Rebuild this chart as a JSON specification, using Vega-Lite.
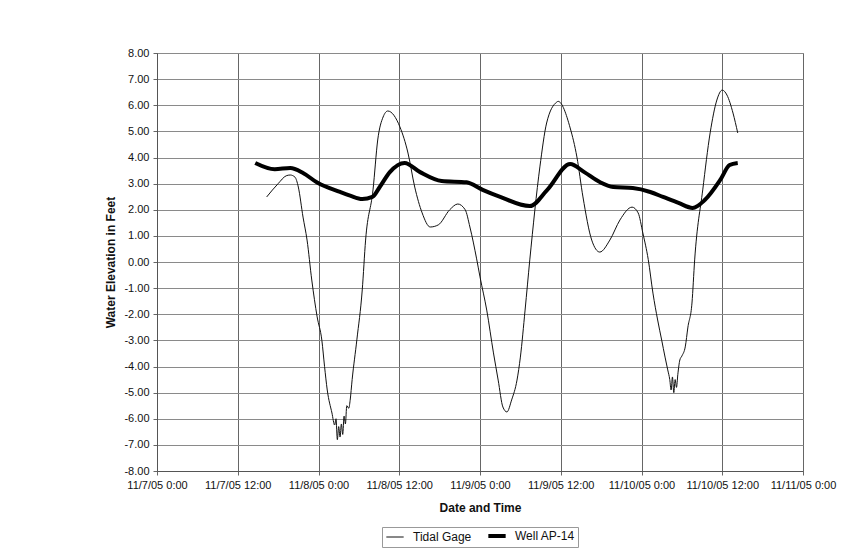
{
  "$schema": "https://vega.github.io/schema/vega-lite/v6.json",
  "width": 646,
  "height": 418,
  "autosize": {"type": "none"},
  "padding": {"left": 157, "top": 53, "right": 64, "bottom": 80},
  "background": "white",
  "config": {
    "font": "Liberation Sans",
    "locale": {
      "number": {"decimal": ".", "thousands": ",", "grouping": [3], "currency": ["$", ""], "minus": "-"}
    },
    "view": {"stroke": "#8a8a8a", "strokeWidth": 1},
    "axis": {
      "labelFont": "Liberation Sans",
      "labelFontSize": 11,
      "labelColor": "#111",
      "titleFont": "Liberation Sans",
      "titleFontSize": 12,
      "titleFontWeight": "bold",
      "titleColor": "#111",
      "tickSize": 4,
      "tickColor": "#666",
      "domainColor": "#555",
      "gridColor": "#8a8a8a",
      "gridOpacity": 1,
      "labelPadding": 4
    },
    "legend": {"labelFont": "Liberation Sans"}
  },
  "data": {
    "values": [
      {"t": "2005-11-07T16:18", "series": "Tidal Gage", "v": 2.49},
      {"t": "2005-11-07T18:00", "series": "Tidal Gage", "v": 3.0},
      {"t": "2005-11-07T19:12", "series": "Tidal Gage", "v": 3.30},
      {"t": "2005-11-07T19:48", "series": "Tidal Gage", "v": 3.33},
      {"t": "2005-11-07T20:30", "series": "Tidal Gage", "v": 3.25},
      {"t": "2005-11-07T21:00", "series": "Tidal Gage", "v": 2.87},
      {"t": "2005-11-07T21:42", "series": "Tidal Gage", "v": 1.72},
      {"t": "2005-11-07T22:18", "series": "Tidal Gage", "v": 0.84},
      {"t": "2005-11-07T23:00", "series": "Tidal Gage", "v": -0.69},
      {"t": "2005-11-07T23:48", "series": "Tidal Gage", "v": -2.1},
      {"t": "2005-11-08T00:30", "series": "Tidal Gage", "v": -3.0},
      {"t": "2005-11-08T00:54", "series": "Tidal Gage", "v": -4.0},
      {"t": "2005-11-08T01:18", "series": "Tidal Gage", "v": -4.9},
      {"t": "2005-11-08T02:00", "series": "Tidal Gage", "v": -5.78},
      {"t": "2005-11-08T02:24", "series": "Tidal Gage", "v": -6.24},
      {"t": "2005-11-08T02:36", "series": "Tidal Gage", "v": -6.0},
      {"t": "2005-11-08T02:48", "series": "Tidal Gage", "v": -6.8},
      {"t": "2005-11-08T03:00", "series": "Tidal Gage", "v": -6.3},
      {"t": "2005-11-08T03:12", "series": "Tidal Gage", "v": -6.7},
      {"t": "2005-11-08T03:24", "series": "Tidal Gage", "v": -6.2},
      {"t": "2005-11-08T03:36", "series": "Tidal Gage", "v": -6.6},
      {"t": "2005-11-08T03:48", "series": "Tidal Gage", "v": -5.9},
      {"t": "2005-11-08T04:00", "series": "Tidal Gage", "v": -6.2},
      {"t": "2005-11-08T04:12", "series": "Tidal Gage", "v": -5.5},
      {"t": "2005-11-08T04:30", "series": "Tidal Gage", "v": -5.6},
      {"t": "2005-11-08T04:42", "series": "Tidal Gage", "v": -5.3},
      {"t": "2005-11-08T05:00", "series": "Tidal Gage", "v": -4.5},
      {"t": "2005-11-08T05:42", "series": "Tidal Gage", "v": -2.98},
      {"t": "2005-11-08T06:30", "series": "Tidal Gage", "v": -1.07},
      {"t": "2005-11-08T07:00", "series": "Tidal Gage", "v": 0.84},
      {"t": "2005-11-08T08:06", "series": "Tidal Gage", "v": 2.76},
      {"t": "2005-11-08T08:48", "series": "Tidal Gage", "v": 4.67},
      {"t": "2005-11-08T09:36", "series": "Tidal Gage", "v": 5.55},
      {"t": "2005-11-08T10:18", "series": "Tidal Gage", "v": 5.78},
      {"t": "2005-11-08T12:06", "series": "Tidal Gage", "v": 5.17},
      {"t": "2005-11-08T13:18", "series": "Tidal Gage", "v": 4.17},
      {"t": "2005-11-08T14:18", "series": "Tidal Gage", "v": 2.87},
      {"t": "2005-11-08T15:24", "series": "Tidal Gage", "v": 1.88},
      {"t": "2005-11-08T16:36", "series": "Tidal Gage", "v": 1.34},
      {"t": "2005-11-08T17:48", "series": "Tidal Gage", "v": 1.42},
      {"t": "2005-11-08T19:30", "series": "Tidal Gage", "v": 2.0},
      {"t": "2005-11-08T20:42", "series": "Tidal Gage", "v": 2.22},
      {"t": "2005-11-08T21:48", "series": "Tidal Gage", "v": 2.0},
      {"t": "2005-11-08T22:30", "series": "Tidal Gage", "v": 1.34},
      {"t": "2005-11-08T23:30", "series": "Tidal Gage", "v": 0.12},
      {"t": "2005-11-09T00:00", "series": "Tidal Gage", "v": -0.57},
      {"t": "2005-11-09T01:00", "series": "Tidal Gage", "v": -1.84},
      {"t": "2005-11-09T02:00", "series": "Tidal Gage", "v": -3.48},
      {"t": "2005-11-09T02:42", "series": "Tidal Gage", "v": -4.52},
      {"t": "2005-11-09T03:24", "series": "Tidal Gage", "v": -5.55},
      {"t": "2005-11-09T04:00", "series": "Tidal Gage", "v": -5.74},
      {"t": "2005-11-09T04:42", "series": "Tidal Gage", "v": -5.28},
      {"t": "2005-11-09T05:30", "series": "Tidal Gage", "v": -4.52},
      {"t": "2005-11-09T06:00", "series": "Tidal Gage", "v": -3.64},
      {"t": "2005-11-09T06:42", "series": "Tidal Gage", "v": -1.84},
      {"t": "2005-11-09T07:24", "series": "Tidal Gage", "v": 0.08},
      {"t": "2005-11-09T08:54", "series": "Tidal Gage", "v": 3.64},
      {"t": "2005-11-09T09:54", "series": "Tidal Gage", "v": 5.32},
      {"t": "2005-11-09T11:24", "series": "Tidal Gage", "v": 6.12},
      {"t": "2005-11-09T11:36", "series": "Tidal Gage", "v": 6.15},
      {"t": "2005-11-09T13:24", "series": "Tidal Gage", "v": 5.13},
      {"t": "2005-11-09T14:24", "series": "Tidal Gage", "v": 4.02},
      {"t": "2005-11-09T15:18", "series": "Tidal Gage", "v": 2.49},
      {"t": "2005-11-09T16:36", "series": "Tidal Gage", "v": 0.84},
      {"t": "2005-11-09T17:48", "series": "Tidal Gage", "v": 0.38},
      {"t": "2005-11-09T19:18", "series": "Tidal Gage", "v": 0.84},
      {"t": "2005-11-09T20:48", "series": "Tidal Gage", "v": 1.61},
      {"t": "2005-11-09T22:36", "series": "Tidal Gage", "v": 2.1},
      {"t": "2005-11-09T23:30", "series": "Tidal Gage", "v": 1.88},
      {"t": "2005-11-10T00:12", "series": "Tidal Gage", "v": 1.11},
      {"t": "2005-11-10T01:00", "series": "Tidal Gage", "v": 0.1},
      {"t": "2005-11-10T01:42", "series": "Tidal Gage", "v": -1.19},
      {"t": "2005-11-10T02:24", "series": "Tidal Gage", "v": -2.22},
      {"t": "2005-11-10T03:00", "series": "Tidal Gage", "v": -2.99},
      {"t": "2005-11-10T03:30", "series": "Tidal Gage", "v": -3.64},
      {"t": "2005-11-10T03:54", "series": "Tidal Gage", "v": -4.13},
      {"t": "2005-11-10T04:12", "series": "Tidal Gage", "v": -4.5},
      {"t": "2005-11-10T04:24", "series": "Tidal Gage", "v": -4.9},
      {"t": "2005-11-10T04:36", "series": "Tidal Gage", "v": -4.4},
      {"t": "2005-11-10T04:48", "series": "Tidal Gage", "v": -5.0},
      {"t": "2005-11-10T05:00", "series": "Tidal Gage", "v": -4.5},
      {"t": "2005-11-10T05:12", "series": "Tidal Gage", "v": -4.8},
      {"t": "2005-11-10T05:24", "series": "Tidal Gage", "v": -4.3},
      {"t": "2005-11-10T05:42", "series": "Tidal Gage", "v": -3.75},
      {"t": "2005-11-10T06:00", "series": "Tidal Gage", "v": -3.6},
      {"t": "2005-11-10T06:30", "series": "Tidal Gage", "v": -3.25},
      {"t": "2005-11-10T06:54", "series": "Tidal Gage", "v": -2.49},
      {"t": "2005-11-10T07:30", "series": "Tidal Gage", "v": -1.57},
      {"t": "2005-11-10T07:54", "series": "Tidal Gage", "v": 0.08},
      {"t": "2005-11-10T09:06", "series": "Tidal Gage", "v": 2.76},
      {"t": "2005-11-10T10:12", "series": "Tidal Gage", "v": 4.94},
      {"t": "2005-11-10T11:12", "series": "Tidal Gage", "v": 6.2},
      {"t": "2005-11-10T12:00", "series": "Tidal Gage", "v": 6.58},
      {"t": "2005-11-10T12:42", "series": "Tidal Gage", "v": 6.39},
      {"t": "2005-11-10T13:36", "series": "Tidal Gage", "v": 5.7},
      {"t": "2005-11-10T14:18", "series": "Tidal Gage", "v": 4.94},
      {"t": "2005-11-07T14:36", "series": "Well AP-14", "v": 3.79},
      {"t": "2005-11-07T17:30", "series": "Well AP-14", "v": 3.55},
      {"t": "2005-11-07T19:48", "series": "Well AP-14", "v": 3.60},
      {"t": "2005-11-07T21:42", "series": "Well AP-14", "v": 3.41},
      {"t": "2005-11-07T23:48", "series": "Well AP-14", "v": 3.04},
      {"t": "2005-11-08T03:12", "series": "Well AP-14", "v": 2.68},
      {"t": "2005-11-08T04:42", "series": "Well AP-14", "v": 2.54},
      {"t": "2005-11-08T06:30", "series": "Well AP-14", "v": 2.41},
      {"t": "2005-11-08T08:00", "series": "Well AP-14", "v": 2.49},
      {"t": "2005-11-08T09:06", "series": "Well AP-14", "v": 2.87},
      {"t": "2005-11-08T10:36", "series": "Well AP-14", "v": 3.44},
      {"t": "2005-11-08T12:48", "series": "Well AP-14", "v": 3.79},
      {"t": "2005-11-08T15:06", "series": "Well AP-14", "v": 3.44},
      {"t": "2005-11-08T18:18", "series": "Well AP-14", "v": 3.10},
      {"t": "2005-11-08T22:00", "series": "Well AP-14", "v": 3.05},
      {"t": "2005-11-09T00:24", "series": "Well AP-14", "v": 2.76},
      {"t": "2005-11-09T03:00", "series": "Well AP-14", "v": 2.49},
      {"t": "2005-11-09T07:24", "series": "Well AP-14", "v": 2.14},
      {"t": "2005-11-09T10:00", "series": "Well AP-14", "v": 2.76},
      {"t": "2005-11-09T13:24", "series": "Well AP-14", "v": 3.75},
      {"t": "2005-11-09T15:30", "series": "Well AP-14", "v": 3.44},
      {"t": "2005-11-09T17:48", "series": "Well AP-14", "v": 3.06},
      {"t": "2005-11-09T19:48", "series": "Well AP-14", "v": 2.87},
      {"t": "2005-11-09T22:42", "series": "Well AP-14", "v": 2.83},
      {"t": "2005-11-10T01:18", "series": "Well AP-14", "v": 2.68},
      {"t": "2005-11-10T03:12", "series": "Well AP-14", "v": 2.49},
      {"t": "2005-11-10T05:30", "series": "Well AP-14", "v": 2.26},
      {"t": "2005-11-10T07:36", "series": "Well AP-14", "v": 2.07},
      {"t": "2005-11-10T09:24", "series": "Well AP-14", "v": 2.37},
      {"t": "2005-11-10T11:42", "series": "Well AP-14", "v": 3.14},
      {"t": "2005-11-10T13:06", "series": "Well AP-14", "v": 3.71},
      {"t": "2005-11-10T14:18", "series": "Well AP-14", "v": 3.79}
    ]
  },
  "encoding": {
    "x": {
      "field": "t",
      "type": "temporal",
      "scale": {
        "domain": ["2005-11-07T00:00", "2005-11-11T00:00"],
        "nice": false
      },
      "axis": {
        "title": "Date and Time",
        "format": "%-m/%-d/%y %-H:%M",
        "values": [
          {"year": 2005, "month": 11, "date": 7, "hours": 0},
          {"year": 2005, "month": 11, "date": 7, "hours": 12},
          {"year": 2005, "month": 11, "date": 8, "hours": 0},
          {"year": 2005, "month": 11, "date": 8, "hours": 12},
          {"year": 2005, "month": 11, "date": 9, "hours": 0},
          {"year": 2005, "month": 11, "date": 9, "hours": 12},
          {"year": 2005, "month": 11, "date": 10, "hours": 0},
          {"year": 2005, "month": 11, "date": 10, "hours": 12},
          {"year": 2005, "month": 11, "date": 11, "hours": 0}
        ],
        "labelOverlap": false,
        "labelFlush": false,
        "titlePadding": 12,
        "gridColor": "#666"
      }
    },
    "y": {
      "field": "v",
      "type": "quantitative",
      "scale": {"domain": [-8, 8], "nice": false},
      "axis": {
        "title": "Water Elevation in Feet",
        "values": [-8, -7, -6, -5, -4, -3, -2, -1, 0, 1, 2, 3, 4, 5, 6, 7, 8],
        "format": ".2f",
        "titlePadding": 6
      }
    },
    "color": {
      "field": "series",
      "type": "nominal",
      "scale": {"domain": ["Tidal Gage", "Well AP-14"], "range": ["#111111", "#000000"]},
      "legend": {
        "title": null,
        "orient": "none",
        "legendX": 225,
        "legendY": 474,
        "direction": "horizontal",
        "symbolType": "stroke",
        "symbolSize": 300,
        "labelFontSize": 12,
        "labelColor": "#111",
        "strokeColor": "#999",
        "fillColor": "white",
        "padding": 3,
        "columnPadding": 8,
        "labelOffset": 12,
        "symbolOffset": 4,
        "encode": {
          "symbols": {
            "update": {
              "strokeWidth": {"signal": "datum.value === 'Well AP-14' ? 4 : 1"}
            }
          }
        }
      }
    }
  },
  "layer": [
    {
      "transform": [{"filter": "datum.series === 'Tidal Gage'"}],
      "mark": {"type": "line", "interpolate": "monotone", "strokeWidth": 1}
    },
    {
      "transform": [{"filter": "datum.series === 'Well AP-14'"}],
      "mark": {"type": "line", "interpolate": "monotone", "strokeWidth": 4}
    }
  ]
}
